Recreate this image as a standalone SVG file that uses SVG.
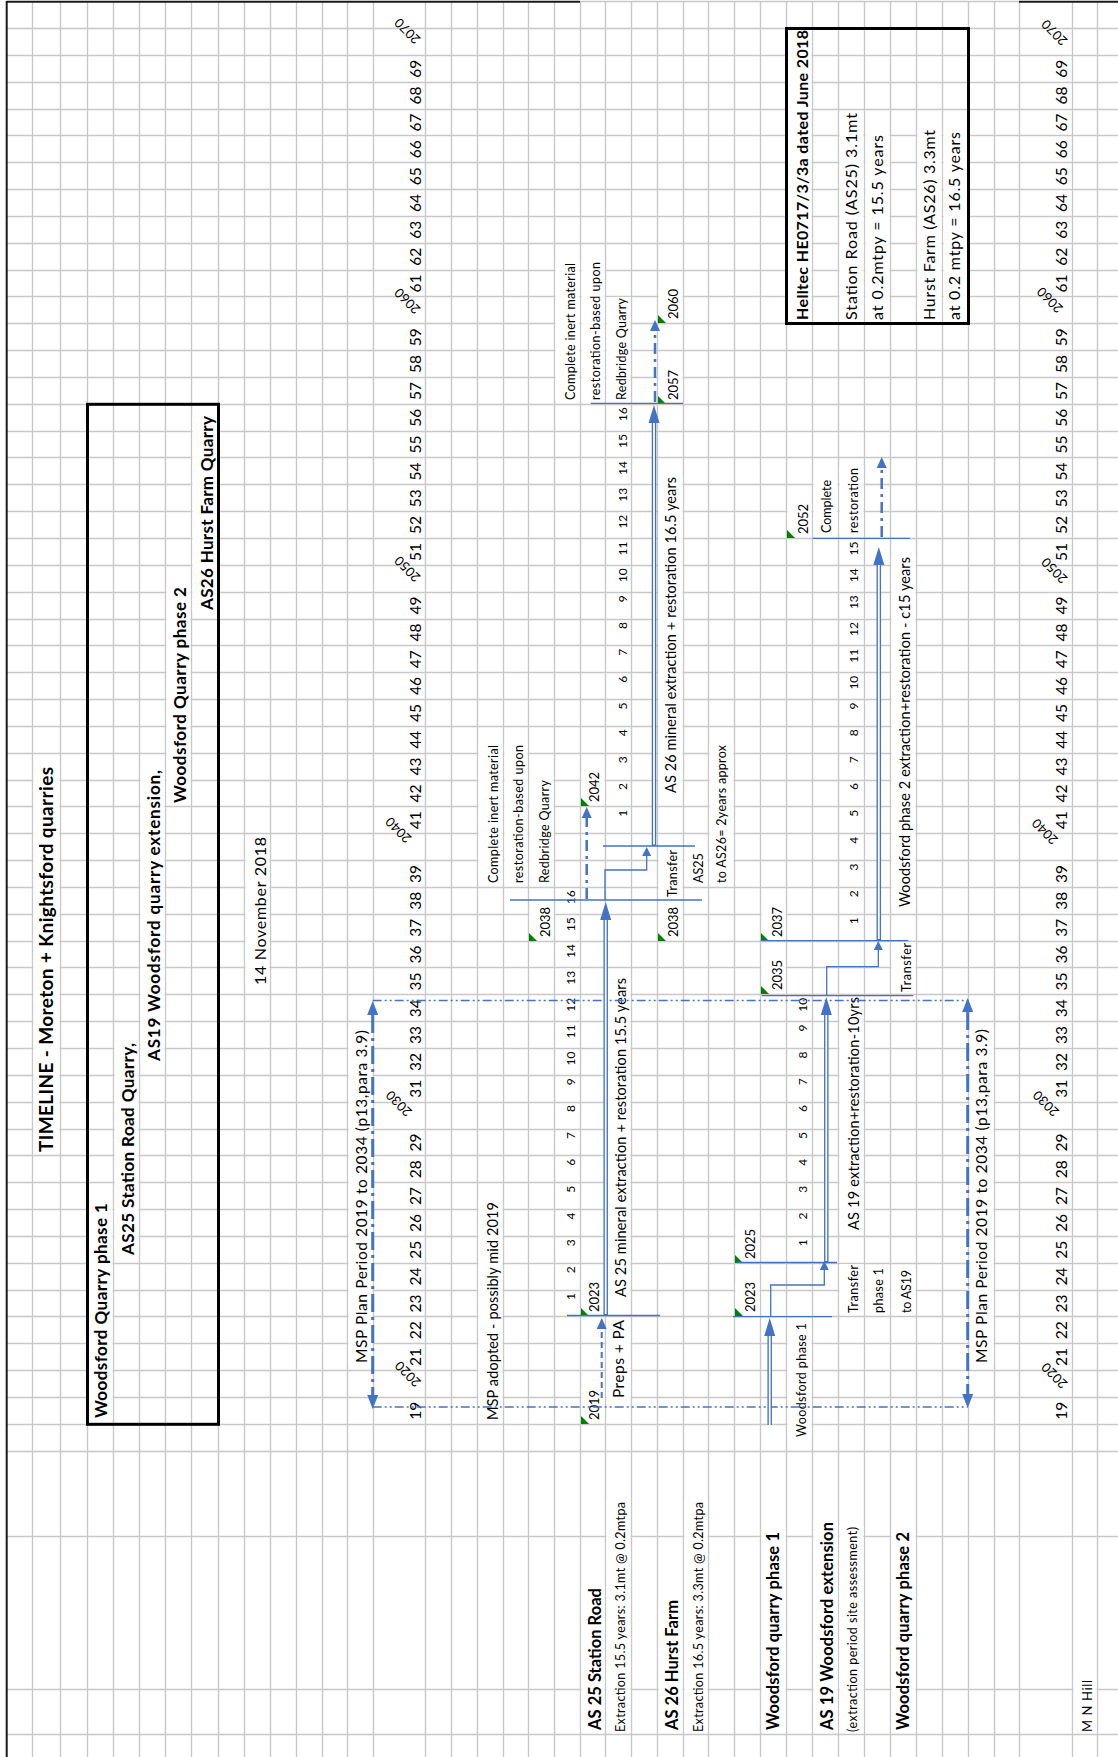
<svg xmlns="http://www.w3.org/2000/svg" width="1118" height="1757" viewBox="0 0 1118 1757">
<defs>
<style>
.t{font-family:Lato,"Liberation Sans",sans-serif;fill:#000}
.b{font-weight:bold}
.grid{stroke:#c8c8c8;stroke-width:1.4;fill:none}
.hide{fill:#fff}
.box{fill:none;stroke:#000;stroke-width:3}
.bl{fill:none;stroke:#4472C4;stroke-width:1.3}
.dd{fill:none;stroke:#4472C4;stroke-width:2.5;stroke-dasharray:11 5 3 5}
.dash{fill:none;stroke:#4472C4;stroke-width:2;stroke-dasharray:6 4}
.mv{fill:none;stroke:#4472C4;stroke-width:3;stroke-dasharray:18 5 3 5}
.mh{fill:none;stroke:#4472C4;stroke-width:1.3;stroke-dasharray:9 3 2 3 2 3}
.dbo{fill:none;stroke:#4472C4;stroke-width:4.5}
.dbi{fill:none;stroke:#fff;stroke-width:1.8}
.tri{fill:#008000}
.ah{fill:#4472C4}
</style>
<marker id="ahS" markerUnits="userSpaceOnUse" orient="auto" overflow="visible" refX="0" refY="0" markerWidth="10" markerHeight="10"><path class="ah" d="M0-4.5L9 0L0 4.5z"/></marker>
<marker id="ahD" markerUnits="userSpaceOnUse" orient="auto" overflow="visible" refX="0" refY="0" markerWidth="12" markerHeight="12"><path class="ah" d="M0-5L11 0L0 5z"/></marker>
<marker id="ahM" markerUnits="userSpaceOnUse" orient="auto-start-reverse" overflow="visible" refX="0" refY="0" markerWidth="15" markerHeight="12"><path class="ah" d="M0-5.5L14 0L0 5.5z"/></marker>
<marker id="ahB" markerUnits="userSpaceOnUse" orient="auto" overflow="visible" refX="0" refY="0" markerWidth="19" markerHeight="12"><path class="ah" d="M0-5.5L18 0L0 5.5z"/></marker>
</defs>
<rect width="1118" height="1757" fill="#fff"/>

<g id="grid">
<path class="grid" d="M32.5 1.5V1757M60.5 1.5V1757M87.5 1.5V1757M113.5 1.5V1757M139.5 1.5V1757M165.5 1.5V1757M191.5 1.5V1757M218.5 1.5V1757M244.5 1.5V1757M270.5 1.5V1757M296.5 1.5V1757M322.5 1.5V1757M347.5 1.5V1757M373.5 1.5V1757M425.5 1.5V1757M451.5 1.5V1757M477.5 1.5V1757M503.5 1.5V1757M528.5 1.5V1757M554.5 1.5V1757M580.5 1.5V1757M605.5 1.5V1757M631.5 1.5V1757M657.5 1.5V1757M683.5 1.5V1757M708.5 1.5V1757M734.5 1.5V1757M760.5 1.5V1757M786.5 1.5V1757M812.5 1.5V1757M838.5 1.5V1757M864.5 1.5V1757M890.5 1.5V1757M916.5 1.5V1757M942.5 1.5V1757M968.5 1.5V1757M994.5 1.5V1757M1019.5 1.5V1757M1072.5 1.5V1757M1097.5 1.5V1757"/>
<path class="grid" d="M580 1.5H1019M6.7 28.5H1118M6.7 55.5H1118M6.7 82.5H1118M6.7 109.5H1118M6.7 135.5H1118M6.7 162.5H1118M6.7 189.5H1118M6.7 216.5H1118M6.7 243.5H1118M6.7 270.5H1118M6.7 296.5H1118M6.7 323.5H1118M6.7 350.5H1118M6.7 377.5H1118M6.7 404.5H1118M6.7 431.5H1118M6.7 457.5H1118M6.7 484.5H1118M6.7 511.5H1118M6.7 538.5H1118M6.7 565.5H1118M6.7 592.5H1118M6.7 619.5H1118M6.7 645.5H1118M6.7 672.5H1118M6.7 699.5H1118M6.7 726.5H1118M6.7 753.5H1118M6.7 780.5H1118M6.7 806.5H1118M6.7 833.5H1118M6.7 860.5H1118M6.7 887.5H1118M6.7 914.5H1118M6.7 941.5H1118M6.7 967.5H1118M6.7 994.5H1118M6.7 1021.5H1118M6.7 1048.5H1118M6.7 1075.5H1118M6.7 1102.5H1118M6.7 1129.5H1118M6.7 1155.5H1118M6.7 1182.5H1118M6.7 1209.5H1118M6.7 1236.5H1118M6.7 1263.5H1118M6.7 1290.5H1118M6.7 1316.5H1118M6.7 1343.5H1118M6.7 1370.5H1118M6.7 1397.5H1118M6.7 1424.5H1118M6.7 1451.5H1118M6.7 1536.5H1118M6.7 1689.5H1118M6.7 1734.5H1118"/>
<path fill="none" stroke="#1a1a1a" stroke-width="2" d="M6.7 1.7H580M1019 1.7H1118M6.7 1V1757"/>
</g>

<g id="gridline-gaps" class="hide">
<rect x="33.5" y="766" width="26" height="387"/>
<rect x="88.5" y="1202" width="24" height="217"/>
<rect x="114.5" y="1042" width="24" height="214"/>
<rect x="140.5" y="769" width="24" height="293"/>
<rect x="166.5" y="586" width="24" height="218"/>
<rect x="192.5" y="415" width="25" height="196"/>
<rect x="245.5" y="836" width="24" height="150"/>
<rect x="348.5" y="1029" width="24" height="335"/>
<rect x="969.5" y="1028" width="24" height="336"/>
<rect x="478.5" y="1201" width="24" height="220"/>
<rect x="478.5" y="744" width="24" height="140"/>
<rect x="504.5" y="744" width="23" height="140"/>
<rect x="529.5" y="779" width="24" height="105"/>
<rect x="529.5" y="907" width="24" height="31"/>
<rect x="606.5" y="977" width="24" height="321"/>
<rect x="606.5" y="1319" width="24" height="80"/>
<rect x="581.5" y="1389" width="23" height="32"/>
<rect x="581.5" y="1282" width="23" height="32"/>
<rect x="581.5" y="772" width="23" height="32"/>
<rect x="555.5" y="262" width="24" height="139"/>
<rect x="581.5" y="261" width="23" height="140"/>
<rect x="606.5" y="297" width="24" height="104"/>
<rect x="658.5" y="371" width="24" height="30"/>
<rect x="658.5" y="289" width="24" height="32"/>
<rect x="658.5" y="476" width="24" height="318"/>
<rect x="658.5" y="849" width="24" height="49"/>
<rect x="658.5" y="907" width="24" height="31"/>
<rect x="684.5" y="856" width="23" height="28"/>
<rect x="709.5" y="744" width="24" height="140"/>
<rect x="735.5" y="1228" width="24" height="32"/>
<rect x="735.5" y="1282" width="24" height="32"/>
<rect x="761.5" y="961" width="24" height="31"/>
<rect x="761.5" y="906" width="24" height="32"/>
<rect x="787.5" y="1322" width="24" height="116"/>
<rect x="839.5" y="996" width="24" height="235"/>
<rect x="839.5" y="1264" width="24" height="50"/>
<rect x="865.5" y="1267" width="24" height="47"/>
<rect x="891.5" y="1269" width="24" height="45"/>
<rect x="891.5" y="942" width="24" height="51"/>
<rect x="891.5" y="556" width="24" height="352"/>
<rect x="787.5" y="503" width="24" height="31"/>
<rect x="813.5" y="479" width="24" height="55"/>
<rect x="839.5" y="467" width="24" height="67"/>
<rect x="581.5" y="1587" width="23" height="144"/>
<rect x="606.5" y="1501" width="24" height="232"/>
<rect x="658.5" y="1599" width="24" height="132"/>
<rect x="684.5" y="1501" width="23" height="232"/>
<rect x="761.5" y="1531" width="24" height="200"/>
<rect x="813.5" y="1521" width="24" height="210"/>
<rect x="839.5" y="1526" width="24" height="207"/>
<rect x="891.5" y="1531" width="24" height="200"/>
<rect x="1073.5" y="1679" width="23" height="54"/>
<rect x="787.5" y="29" width="24" height="292"/>
<rect x="839.5" y="112" width="24" height="209"/>
<rect x="865.5" y="134" width="24" height="187"/>
<rect x="917.5" y="129" width="24" height="192"/>
<rect x="943.5" y="131" width="24" height="190"/>
</g>

<g id="title" class="t b" transform="rotate(-90)">
<text x="-1152" y="53.2" font-size="19" textLength="385">TIMELINE - Moreton + Knightsford quarries</text>
</g>

<g id="legend-box">
<rect class="box" x="87.5" y="404.3" width="131" height="1020"/>
<g class="t b" font-size="17" transform="rotate(-90)">
<text x="-1418" y="107" textLength="215">Woodsford Quarry phase 1</text>
<text x="-1255" y="133.6" textLength="212">AS25 Station Road Quarry,</text>
<text x="-1061" y="160" textLength="291">AS19 Woodsford quarry extension,</text>
<text x="-803" y="186" textLength="216">Woodsford Quarry phase 2</text>
<text x="-610" y="212.7" textLength="194">AS26 Hurst Farm Quarry</text>
</g>
</g>

<g id="date" class="t" transform="rotate(-90)">
<text x="-985" y="266" font-size="16" textLength="148">14 November 2018</text>
</g>

<g id="helltec-box">
<rect class="box" x="786.5" y="28.5" width="182" height="295" stroke-width="2.7"/>
<g class="t" font-size="16" transform="rotate(-90)">
<text class="b" x="-320" y="807.5" textLength="290">Helltec HE0717/3/3a dated June 2018</text>
<text x="-320" y="857" textLength="207">Station Road (AS25) 3.1mt</text>
<text x="-320" y="883.4" textLength="185">at 0.2mtpy = 15.5 years</text>
<text x="-320" y="934.5" textLength="190">Hurst Farm (AS26) 3.3mt</text>
<text x="-320" y="959.7" textLength="188">at 0.2 mtpy = 16.5 years</text>
</g>
</g>

<g id="years-left" class="t" font-size="15.5" text-anchor="middle" transform="rotate(-90) translate(0 421)">
<text x="-1410.8">19</text><text x="-1357.1">21</text><text x="-1330.3">22</text><text x="-1303.4">23</text><text x="-1276.6">24</text><text x="-1249.8">25</text><text x="-1222.9">26</text><text x="-1196.1">27</text><text x="-1169.2">28</text><text x="-1142.4">29</text>
<text x="-1088.7">31</text><text x="-1061.9">32</text><text x="-1035">33</text><text x="-1008.2">34</text><text x="-981.4">35</text><text x="-954.5">36</text><text x="-927.7">37</text><text x="-900.8">38</text><text x="-874">39</text>
<text x="-820.3">41</text><text x="-793.5">42</text><text x="-766.6">43</text><text x="-739.8">44</text><text x="-713">45</text><text x="-686.1">46</text><text x="-659.3">47</text><text x="-632.4">48</text><text x="-605.6">49</text>
<text x="-551.9">51</text><text x="-525.1">52</text><text x="-498.2">53</text><text x="-471.4">54</text><text x="-444.6">55</text><text x="-417.7">56</text><text x="-390.9">57</text><text x="-364">58</text><text x="-337.2">59</text>
<text x="-283.5">61</text><text x="-256.7">62</text><text x="-229.8">63</text><text x="-203">64</text><text x="-176.2">65</text><text x="-149.3">66</text><text x="-122.5">67</text><text x="-95.6">68</text><text x="-68.8">69</text>
</g>
<g id="decades-left" class="t" font-size="13" text-anchor="middle">
<text transform="translate(408 1374) rotate(-135)" y="4.5">2020</text>
<text transform="translate(399 1103.5) rotate(-135)" y="4.5">2030</text>
<text transform="translate(398.5 830) rotate(-135)" y="4.5">2040</text>
<text transform="translate(407.5 569) rotate(-135)" y="4.5">2050</text>
<text transform="translate(407.5 301) rotate(-135)" y="4.5">2060</text>
<text transform="translate(407.5 31) rotate(-135)" y="4.5">2070</text>
</g>

<g id="years-right" class="t" font-size="15.5" text-anchor="middle" transform="rotate(-90) translate(0 1067)">
<text x="-1410.8">19</text><text x="-1357.1">21</text><text x="-1330.3">22</text><text x="-1303.4">23</text><text x="-1276.6">24</text><text x="-1249.8">25</text><text x="-1222.9">26</text><text x="-1196.1">27</text><text x="-1169.2">28</text><text x="-1142.4">29</text>
<text x="-1088.7">31</text><text x="-1061.9">32</text><text x="-1035">33</text><text x="-1008.2">34</text><text x="-981.4">35</text><text x="-954.5">36</text><text x="-927.7">37</text><text x="-900.8">38</text><text x="-874">39</text>
<text x="-820.3">41</text><text x="-793.5">42</text><text x="-766.6">43</text><text x="-739.8">44</text><text x="-713">45</text><text x="-686.1">46</text><text x="-659.3">47</text><text x="-632.4">48</text><text x="-605.6">49</text>
<text x="-551.9">51</text><text x="-525.1">52</text><text x="-498.2">53</text><text x="-471.4">54</text><text x="-444.6">55</text><text x="-417.7">56</text><text x="-390.9">57</text><text x="-364">58</text><text x="-337.2">59</text>
<text x="-283.5">61</text><text x="-256.7">62</text><text x="-229.8">63</text><text x="-203">64</text><text x="-176.2">65</text><text x="-149.3">66</text><text x="-122.5">67</text><text x="-95.6">68</text><text x="-68.8">69</text>
</g>
<g id="decades-right" class="t" font-size="13" text-anchor="middle">
<text transform="translate(1054.5 1375.5) rotate(-135)" y="4.5">2020</text>
<text transform="translate(1046 1103.5) rotate(-135)" y="4.5">2030</text>
<text transform="translate(1045 831.5) rotate(-135)" y="4.5">2040</text>
<text transform="translate(1054.5 570.5) rotate(-135)" y="4.5">2050</text>
<text transform="translate(1050 300) rotate(-135)" y="4.5">2060</text>
<text transform="translate(1054.5 32.5) rotate(-135)" y="4.5">2070</text>
</g>

<g id="msp-period" class="t" font-size="15.5" transform="rotate(-90)">
<text x="-1363" y="367" textLength="333">MSP Plan Period 2019 to 2034 (p13,para 3.9)</text>
<text x="-1363" y="987" textLength="334">MSP Plan Period 2019 to 2034 (p13,para 3.9)</text>
</g>

<g id="msp-adopted" class="t" font-size="14.5" transform="rotate(-90)">
<text x="-1420" y="497.8" textLength="218">MSP adopted - possibly mid 2019</text>
</g>

<g id="markers-green">
<polygon class="tri" points="581,1416 581,1424 589,1424"/>
<polygon class="tri" points="581,1308 581,1316 589,1316"/>
<polygon class="tri" points="581,798 581,806 589,806"/>
<polygon class="tri" points="529,933 529,941 537,941"/>
<polygon class="tri" points="658,933 658,941 666,941"/>
<polygon class="tri" points="658,396 658,404 666,404"/>
<polygon class="tri" points="658,315 658,323 666,323"/>
<polygon class="tri" points="735,1308 735,1316 743,1316"/>
<polygon class="tri" points="735,1255 735,1263 743,1263"/>
<polygon class="tri" points="761,986 761,994 769,994"/>
<polygon class="tri" points="761,933 761,941 769,941"/>
<polygon class="tri" points="787,530 787,538 795,538"/>
</g>

<g id="as25-station-road">
<g class="t" transform="rotate(-90)">
<text x="-883" y="497.5" font-size="12.5" textLength="138">Complete inert material</text>
<text x="-883" y="522.5" font-size="12.5" textLength="138">restoration-based upon</text>
<text x="-883" y="548.5" font-size="12.5" textLength="103">Redbridge Quarry</text>
<text x="-937" y="550" font-size="13">2038</text>
<text x="-1420" y="599" font-size="13">2019</text>
<text x="-1312" y="599" font-size="13">2023</text>
<text x="-802" y="599" font-size="13">2042</text>
<text x="-1297" y="626" font-size="14.5" textLength="319">AS 25 mineral extraction + restoration 15.5 years</text>
<text x="-1398" y="624" font-size="15.5" textLength="78">Preps + PA</text>
</g>
<g class="t" font-size="12" text-anchor="end" transform="rotate(-90) translate(0 575)">
<text x="-1293">1</text><text x="-1266.2">2</text><text x="-1239.3">3</text><text x="-1212.5">4</text><text x="-1185.7">5</text><text x="-1158.8">6</text><text x="-1132">7</text><text x="-1105.1">8</text><text x="-1078.3">9</text><text x="-1051.5">10</text><text x="-1024.6">11</text><text x="-997.8">12</text><text x="-970.9">13</text><text x="-944.1">14</text><text x="-917.3">15</text><text x="-890.4">16</text>
</g>
</g>

<g id="as26-hurst-farm">
<g class="t" transform="rotate(-90)">
<text x="-400" y="574.5" font-size="12.5" textLength="137">Complete inert material</text>
<text x="-400" y="599.5" font-size="12.5" textLength="138">restoration-based upon</text>
<text x="-400" y="625.5" font-size="12.5" textLength="102">Redbridge Quarry</text>
<text x="-400" y="678" font-size="13">2057</text>
<text x="-319" y="678" font-size="13">2060</text>
<text x="-937" y="678" font-size="13">2038</text>
<text x="-793" y="676" font-size="14.5" textLength="316">AS 26 mineral extraction + restoration 16.5 years</text>
<text x="-897" y="677" font-size="12.5" textLength="47">Transfer</text>
<text x="-883" y="703" font-size="12.5">AS25</text>
<text x="-883" y="726" font-size="12.5" textLength="138">to AS26= 2years approx</text>
</g>
<g class="t" font-size="12" text-anchor="end" transform="rotate(-90) translate(0 627)">
<text x="-809.9">1</text><text x="-783.1">2</text><text x="-756.2">3</text><text x="-729.4">4</text><text x="-702.5">5</text><text x="-675.7">6</text><text x="-648.9">7</text><text x="-622">8</text><text x="-595.2">9</text><text x="-568.3">10</text><text x="-541.5">11</text><text x="-514.7">12</text><text x="-487.8">13</text><text x="-461">14</text><text x="-434.1">15</text><text x="-407.3">16</text>
</g>
</g>

<g id="woodsford-phase1" class="t" transform="rotate(-90)">
<text x="-1259" y="755" font-size="13">2025</text>
<text x="-1312" y="755" font-size="13">2023</text>
<text x="-1437" y="806" font-size="12.5" textLength="114">Woodsford phase 1</text>
</g>

<g id="as19-woodsford-extension">
<g class="t" transform="rotate(-90)">
<text x="-1230" y="858.7" font-size="14.5" textLength="233">AS 19 extraction+restoration-10yrs</text>
<text x="-1313" y="857.5" font-size="12.5" textLength="48">Transfer</text>
<text x="-1313" y="883" font-size="12.5" textLength="45">phase 1</text>
<text x="-1313" y="911" font-size="12.5" textLength="43">to AS19</text>
<text x="-990" y="781.5" font-size="13">2035</text>
<text x="-937" y="781.5" font-size="13">2037</text>
</g>
<g class="t" font-size="12" text-anchor="end" transform="rotate(-90) translate(0 807)">
<text x="-1239.3">1</text><text x="-1212.5">2</text><text x="-1185.7">3</text><text x="-1158.8">4</text><text x="-1132">5</text><text x="-1105.1">6</text><text x="-1078.3">7</text><text x="-1051.5">8</text><text x="-1024.6">9</text><text x="-997.8">10</text>
</g>
</g>

<g id="woodsford-phase2">
<g class="t" transform="rotate(-90)">
<text x="-992" y="911" font-size="12.5" textLength="49">Transfer</text>
<text x="-907" y="909.7" font-size="14.5" textLength="350">Woodsford phase 2 extraction+restoration - c15 years</text>
<text x="-534" y="808" font-size="13">2052</text>
<text x="-533" y="830.6" font-size="12.5" textLength="53">Complete</text>
<text x="-533" y="857.5" font-size="12.5" textLength="65">restoration</text>
</g>
<g class="t" font-size="12" text-anchor="end" transform="rotate(-90) translate(0 858)">
<text x="-917.3">1</text><text x="-890.4">2</text><text x="-863.6">3</text><text x="-836.7">4</text><text x="-809.9">5</text><text x="-783.1">6</text><text x="-756.2">7</text><text x="-729.4">8</text><text x="-702.5">9</text><text x="-675.7">10</text><text x="-648.9">11</text><text x="-622">12</text><text x="-595.2">13</text><text x="-568.3">14</text><text x="-541.5">15</text>
</g>
</g>

<g id="row-labels" class="t" transform="rotate(-90)">
<text class="b" x="-1730" y="601" font-size="16.5" textLength="142">AS 25 Station Road</text>
<text x="-1732" y="625" font-size="12.5" textLength="230">Extraction 15.5 years: 3.1mt @ 0.2mtpa</text>
<text class="b" x="-1730" y="678" font-size="16.5" textLength="130">AS 26 Hurst Farm</text>
<text x="-1732" y="702.5" font-size="12.5" textLength="230">Extraction 16.5 years: 3.3mt @ 0.2mtpa</text>
<text class="b" x="-1730" y="779.4" font-size="16.5" textLength="198">Woodsford quarry phase 1</text>
<text class="b" x="-1730" y="832.5" font-size="16.5" textLength="208">AS 19 Woodsford extension</text>
<text x="-1732" y="857.3" font-size="12.5" textLength="205">(extraction period site assessment)</text>
<text class="b" x="-1730" y="909.4" font-size="16.5" textLength="198">Woodsford quarry phase 2</text>
<text x="-1732" y="1092" font-size="13" textLength="52">M N Hill</text>
</g>

<g id="connectors">
<path class="mh" d="M372.7 1000.5H967.7M372.7 1407H967.7"/>
<path class="mv" d="M372.7 1015V1395" marker-start="url(#ahM)" marker-end="url(#ahM)"/>
<path class="mv" d="M967.7 1012V1394" marker-start="url(#ahM)" marker-end="url(#ahM)"/>

<path class="dash" d="M601.7 1398V1329" marker-end="url(#ahD)"/>
<path class="bl" d="M567 1315.5H660"/>
<path class="dbo" d="M605.7 1315.5V920" marker-end="url(#ahB)"/>
<path class="dbi" d="M605.7 1314V920"/>
<path class="bl" d="M510 900H702"/>
<path class="dd" d="M586.7 899V818" marker-end="url(#ahD)"/>
<path class="bl" d="M605 900V870H646.7V856" marker-end="url(#ahS)"/>

<path class="bl" d="M603 846H695"/>
<path class="dbo" d="M654 846V423" marker-end="url(#ahB)"/>
<path class="dbi" d="M654 844.5V423"/>
<path class="bl" d="M590.7 403.3H683"/>
<path class="dd" d="M655 402V331" marker-end="url(#ahD)"/>

<path class="dbo" d="M769.7 1425V1336" marker-end="url(#ahB)"/>
<path class="dbi" d="M769.7 1425V1336"/>
<path class="bl" d="M733 1316.7H832"/>
<path class="bl" d="M770.7 1316.7V1285H824.3V1270" marker-end="url(#ahS)"/>

<path class="bl" d="M737 1262.5H837"/>
<path class="dbo" d="M826.3 1262.5V1015" marker-end="url(#ahB)"/>
<path class="dbi" d="M826.3 1261V1015"/>
<path class="bl" d="M761.7 995.7H913.3"/>
<path class="bl" d="M826.7 995.7V966.7H878.3V950" marker-end="url(#ahS)"/>

<path class="bl" d="M760.7 940.7H908.3"/>
<path class="dbo" d="M878.8 940.7V565" marker-end="url(#ahB)"/>
<path class="dbi" d="M878.8 939V565"/>
<path class="bl" d="M812.7 538.3H910"/>
<path class="dd" d="M881.7 537V468" marker-end="url(#ahD)"/>
</g>
</svg>
